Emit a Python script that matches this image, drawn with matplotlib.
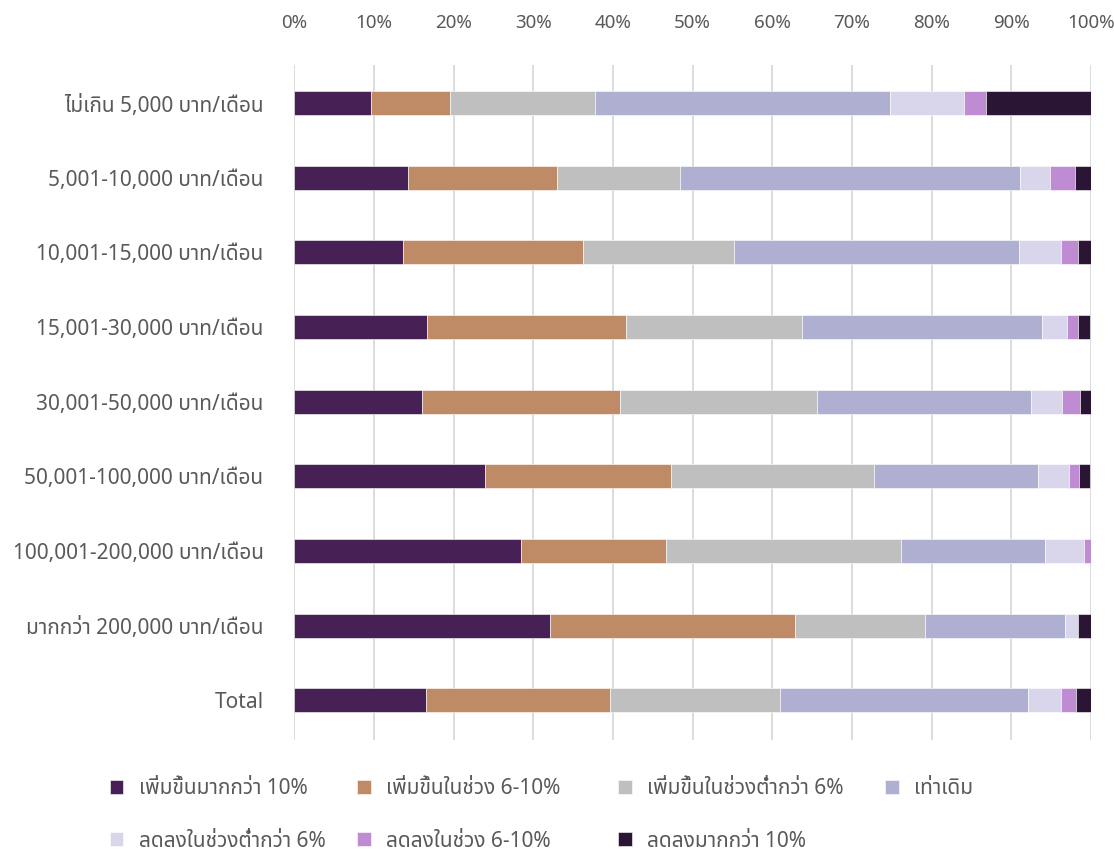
import matplotlib
matplotlib.use('Agg')
import numpy as np
import matplotlib.pyplot as plt
from matplotlib import font_manager

# pick a Thai-capable family from what is installed
names = set(f.name for f in font_manager.fontManager.ttflist)
thaiFont = 'DejaVu Sans'
for cand in ['Noto Sans Thai', 'Sarabun', 'IBM Plex Sans Thai', 'Anuphan', 'Bai Jamjuree']:
    if cand in names:
        thaiFont = cand
        break
plt.rcParams['font.family'] = [thaiFont, 'DejaVu Sans']

categories = ['ไม่เกิน 5,000 บาท/เดือน', '5,001-10,000 บาท/เดือน', '10,001-15,000 บาท/เดือน',
              '15,001-30,000 บาท/เดือน', '30,001-50,000 บาท/เดือน', '50,001-100,000 บาท/เดือน',
              '100,001-200,000 บาท/เดือน', 'มากกว่า 200,000 บาท/เดือน', 'Total']
seriesNames = ['เพิ่มขึ้นมากกว่า 10%', 'เพิ่มขึ้นในช่วง 6-10%', 'เพิ่มขึ้นในช่วงต่ำกว่า 6%', 'เท่าเดิม',
               'ลดลงในช่วงต่ำกว่า 6%', 'ลดลงในช่วง 6-10%', 'ลดลงมากกว่า 10%']

# percent share per category, one list per series
up10 = [9.7, 14.3, 13.7, 16.7, 16.0, 23.9, 28.5, 32.1, 16.5]
up6to10 = [9.8, 18.7, 22.6, 25.0, 24.9, 23.4, 18.1, 30.8, 23.1]
upBelow6 = [18.3, 15.4, 18.9, 22.0, 24.7, 25.4, 29.6, 16.3, 21.4]
same = [37.0, 42.7, 35.8, 30.1, 26.8, 20.6, 18.0, 17.5, 31.1]
downBelow6 = [9.2, 3.7, 5.2, 3.2, 3.9, 3.9, 4.9, 1.7, 4.1]
down6to10 = [2.8, 3.2, 2.1, 1.4, 2.3, 1.3, 0.9, 0.0, 1.9]
down10 = [13.3, 2.1, 1.7, 1.5, 1.4, 1.4, 0.0, 1.6, 1.9]

colors = ['#472055', '#BE8B66', '#BFBFBF', '#AFAFD1', '#D9D5EA', '#BF8CD4', '#2A1535']
textColor = '#595959'

data = np.array([up10, up6to10, upBelow6, same, downBelow6, down6to10, down10])

fig = plt.figure(figsize=(11.14, 8.55), dpi=100)
ax = fig.add_axes([0.264, 0.1345, 0.7155, 0.7895])

y = np.arange(len(categories))
left = np.zeros(len(categories))
handles = []
for i in range(len(seriesNames)):
    b = ax.barh(y, data[i], left=left, height=0.32, color=colors[i],
                edgecolor='white', linewidth=0.4, label=seriesNames[i], zorder=3)
    handles.append(b)
    left += data[i]

ax.set_xlim(0, 100)
ax.set_ylim(len(categories) - 0.47, -0.51)
ax.set_xticks(np.arange(0, 101, 10))
ax.set_xticklabels(['%d%%' % v for v in range(0, 101, 10)])
ax.xaxis.tick_top()
ax.set_yticks(y)
ax.set_yticklabels(categories)
ax.tick_params(axis='x', length=0, pad=24, labelsize=13.5, labelcolor=textColor)
ax.tick_params(axis='y', length=0, pad=22, labelsize=15, labelcolor=textColor)
ax.grid(axis='x', color='#D9D9D9', linewidth=1.3, zorder=0)
for s in ax.spines.values():
    s.set_visible(False)

# legend laid out row by row, one small legend per column
legendCols = [[0, 4], [1, 5], [2, 6], [3]]
colX = [0.0987, 0.3205, 0.5548, 0.7944]
for idx, x0 in zip(legendCols, colX):
    fig.legend([handles[k] for k in idx], [seriesNames[k] for k in idx],
               loc='upper left', bbox_to_anchor=(x0, 0.0895), frameon=False,
               borderpad=0, borderaxespad=0,
               fontsize=15, labelcolor=textColor, handlelength=0.65, handleheight=0.65,
               handletextpad=0.75, labelspacing=1.5)

fig.savefig('out.png', dpi=100)
